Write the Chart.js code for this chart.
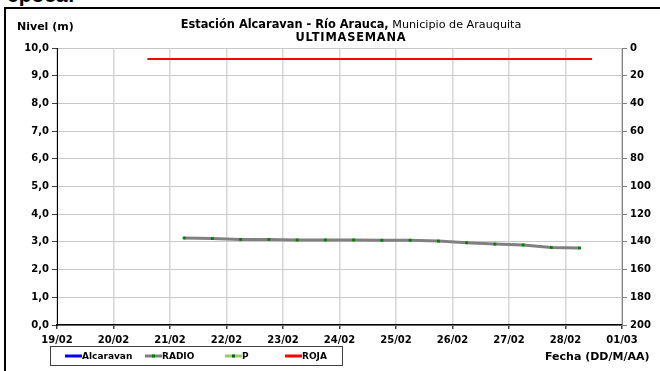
<!DOCTYPE html>
<html>
<head>
<meta charset="utf-8">
<script src="https://cdn.jsdelivr.net/npm/chart.js@4.4.1/dist/chart.umd.min.js"></script>
<style>
  body { margin: 0; background: #fff; width: 660px; height: 371px; overflow: hidden; position: relative; font-family: "Liberation Sans", Arial, sans-serif; }
  #epoca { position: absolute; left: 7px; top: -17px; font-size: 21px; font-weight: bold; color: #000; }
  #frame { position: absolute; left: 4px; top: 7px; width: 660px; height: 370px; border-left: 2px solid #000; border-top: 2px solid #000; }
  #c { position: absolute; left: 0; top: 0; }
</style>
</head>
<body>
<div id="epoca">época:</div>
<div id="frame"></div>
<canvas id="c" width="660" height="371"></canvas>
<script>
// Fechas del eje X (una por día)
const xLabels = ['19/02', '20/02', '21/02', '22/02', '23/02', '24/02', '25/02', '26/02', '27/02', '28/02', '01/03'];

// Lecturas RADIO: días desde 19/02 y nivel (m)
const radioDays = [2.25, 2.75, 3.25, 3.75, 4.25, 4.75, 5.25, 5.75, 6.25, 6.75, 7.25, 7.75, 8.25, 8.75, 9.25];
const radioLevels = [3.14, 3.12, 3.09, 3.09, 3.07, 3.07, 3.07, 3.06, 3.06, 3.03, 2.97, 2.92, 2.89, 2.80, 2.78];

// Cota de alerta roja
const rojaDays = [1.6, 9.47];
const rojaLevels = [9.6, 9.6];

// Series vacías (sólo leyenda)
const alcaravanLevels = [];
const pLevels = [];

const FONT = '"DejaVu Sans", sans-serif';

function toPoints(xs, ys) {
    return xs.map((x, i) => ({ x: x, y: ys[i] }));
}

// título con partes en negrita y normal
const titlePlugin = {
    id: 'titulo',
    afterDraw(chart) {
        const ctx = chart.ctx;
        ctx.save();
        ctx.fillStyle = '#000';
        ctx.textBaseline = 'middle';
        const boldPart = 'Estación Alcaravan - Río Arauca,';
        const normPart = ' Municipio de Arauquita';
        ctx.font = 'bold 11.4px ' + FONT;
        const w1 = ctx.measureText(boldPart).width;
        ctx.font = '11.2px ' + FONT;
        const w2 = ctx.measureText(normPart).width;
        let x = 351 - (w1 + w2) / 2;
        ctx.textAlign = 'left';
        ctx.font = 'bold 11.4px ' + FONT;
        ctx.fillText(boldPart, x, 25);
        ctx.font = '11.2px ' + FONT;
        ctx.fillText(normPart, x + w1, 25);
        ctx.font = 'bold 11.4px ' + FONT;
        ctx.letterSpacing = '0.8px';
        ctx.textAlign = 'center';
        ctx.fillText('ULTIMASEMANA', 351, 38);
        ctx.letterSpacing = '0px';
        ctx.textAlign = 'left';
        ctx.font = 'bold 11px ' + FONT;
        ctx.fillText('Nivel (m)', 17, 27);
        ctx.fillText('Fecha (DD/M/AA)', 545, 357);
        ctx.restore();
    }
};

// leyenda dentro de un recuadro
const legendPlugin = {
    id: 'leyendaCaja',
    afterDraw(chart) {
        const ctx = chart.ctx;
        ctx.save();
        ctx.strokeStyle = '#404040';
        ctx.lineWidth = 1;
        ctx.strokeRect(50.5, 346.5, 292, 19);
        const pos = [65, 145, 225, 285];
        const y = 356;
        ctx.font = 'bold 9px ' + FONT;
        ctx.textBaseline = 'middle';
        chart.data.datasets.forEach((ds, i) => {
            const x = pos[i];
            ctx.strokeStyle = ds.legendLine || ds.borderColor;
            ctx.lineWidth = 3;
            ctx.beginPath();
            ctx.moveTo(x, y);
            ctx.lineTo(x + 17, y);
            ctx.stroke();
            if (ds.legendDot) {
                ctx.fillStyle = ds.legendDot;
                ctx.fillRect(x + 7, y - 1.5, 3, 3);
            }
            ctx.fillStyle = '#000';
            ctx.fillText(ds.label, x + 17, y + 0.5);
        });
        ctx.restore();
    }
};

new Chart(document.getElementById('c'), {
    type: 'line',
    data: {
        datasets: [
            {
                label: 'Alcaravan',
                data: alcaravanLevels,
                borderColor: '#0000ff',
                borderWidth: 2,
                pointRadius: 0
            },
            {
                label: 'RADIO',
                data: toPoints(radioDays, radioLevels),
                borderColor: '#808080',
                borderWidth: 3,
                pointRadius: 2,
                pointStyle: 'rect',
                pointBackgroundColor: '#008000',
                pointBorderWidth: 0,
                legendDot: '#008000'
            },
            {
                label: 'P',
                data: pLevels,
                borderColor: '#99cc66',
                borderWidth: 2,
                pointRadius: 0,
                legendDot: '#006600'
            },
            {
                label: 'ROJA',
                data: toPoints(rojaDays, rojaLevels),
                borderColor: '#ff0000',
                borderWidth: 2,
                pointRadius: 0
            }
        ]
    },
    options: {
        responsive: false,
        animation: false,
        layout: { padding: { top: 48, left: 0, right: 0, bottom: 0 } },
        plugins: { legend: { display: false }, title: { display: false }, tooltip: { enabled: false } },
        scales: {
            x: {
                type: 'linear',
                min: 0,
                max: 10,
                afterFit: s => { s.height = 46; },
                ticks: {
                    stepSize: 1,
                    autoSkip: false,
                    maxRotation: 0,
                    padding: 5,
                    color: '#000',
                    font: { family: FONT, size: 10, weight: 'bold' },
                    callback: v => xLabels[v]
                },
                grid: { color: '#d6d6d6', lineWidth: 1.5, tickColor: '#404040', tickLength: 4 },
                border: { color: '#000', width: 1.5 }
            },
            y: {
                position: 'left',
                min: 0,
                max: 10,
                afterFit: s => { s.width = 57; },
                ticks: {
                    stepSize: 1,
                    padding: 3,
                    color: '#000',
                    font: { family: FONT, size: 10, weight: 'bold' },
                    callback: v => v.toFixed(1).replace('.', ',')
                },
                grid: { color: '#c8c8c8', lineWidth: 1, tickColor: '#404040', tickLength: 5 },
                border: { color: '#000', width: 1 }
            },
            y2: {
                position: 'right',
                min: 0,
                max: 200,
                reverse: true,
                afterFit: s => { s.width = 38; },
                ticks: {
                    stepSize: 20,
                    padding: 3,
                    color: '#000',
                    font: { family: FONT, size: 10, weight: 'bold' }
                },
                grid: { drawOnChartArea: false, tickColor: '#808080', tickLength: 5 },
                border: { color: '#808080', width: 1 }
            }
        }
    },
    plugins: [titlePlugin, legendPlugin]
});
</script>
</body>
</html>
